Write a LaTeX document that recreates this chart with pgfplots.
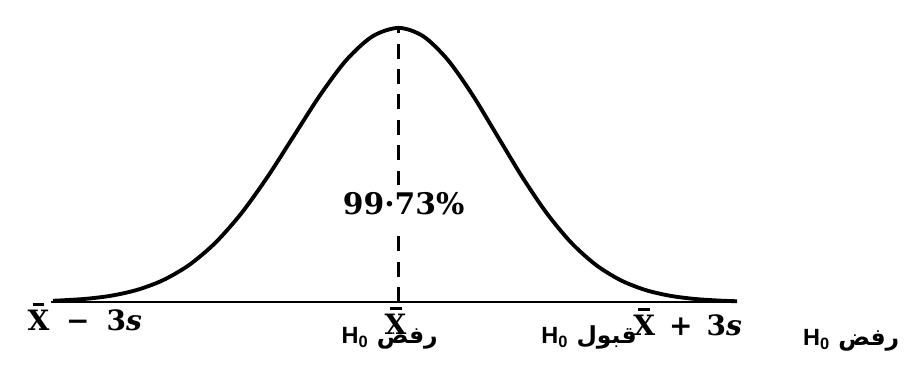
\documentclass[border=0pt]{standalone}
\usepackage{fontspec}
\usepackage{pgfplots}
\pgfplotsset{compat=1.18}
\setmainfont{Liberation Sans}
\newfontfamily\arabicfont[Script=Arabic]{DejaVu Sans}
\newfontfamily\labelfont{DejaVu Serif}
\TeXXeTstate=1
% Arabic decision label followed by H_0 (right to left)
\newcommand\hyp[1]{{\arabicfont\bfseries\beginR #1 \beginL{\normalfont\bfseries H\textsubscript{0}}\endL\endR}}
% X with a short heavy bar (sample mean)
\newcommand\xbar{\hbox{\setbox0=\hbox{X}\copy0\kern-\wd0\hbox to\wd0{\hss\raisebox{0.9em}{\rule{0.42em}{0.1em}}\hss}}}

\begin{document}
\begin{tikzpicture}
\begin{axis}[
  width=18.1cm, height=7.66cm, scale only axis,
  xmin=-3.9216, xmax=4.9510, ymin=-0.29091, ymax=1.10182,
  hide axis, clip=false]
\path (rel axis cs:0,0) rectangle (rel axis cs:1,1);

% base line
\addplot[black, line width=1.6pt] coordinates {(-3.42,0) (3.33,0)};

% bell curve (hand drawn: left flank a little wider than the right)
\addplot[black, line width=2.2pt, smooth] coordinates {
(-3.40,0.0043) (-3.09,0.01111) (-2.83,0.02279) (-2.575,0.04394) (-2.3175,0.07956)
(-2.06,0.13534) (-1.8025,0.21627) (-1.545,0.32465) (-1.2875,0.45783)
(-1.03,0.60653) (-0.7725,0.75484) (-0.515,0.88250) (-0.2575,0.96923)
(0.00,1.00000)
(0.2425,0.96923) (0.485,0.88250) (0.7275,0.75484) (0.97,0.60653)
(1.2125,0.45783) (1.455,0.32465) (1.6975,0.21627) (1.94,0.13534)
(2.1825,0.07956) (2.425,0.04394) (2.6675,0.02279) (2.91,0.01111)
(3.1525,0.00509) (3.33,0.0026)};

% mean line, broken around the central label
\addplot[black, line width=1.4pt, dash pattern=on 8.5pt off 6pt] coordinates {(0,0) (0,0.273)};
\addplot[black, line width=1.4pt, dash pattern=on 8.5pt off 6pt] coordinates {(0,0.425) (0,1)};

% anchor points for the labels
\coordinate (pct) at (axis cs:0.049,0.36);
\coordinate (lo) at (axis cs:-3.088,-0.1055);
\coordinate (mu) at (axis cs:-0.03,-0.12);
\coordinate (hi) at (axis cs:2.843,-0.1236);
\coordinate (r1) at (axis cs:-0.088,-0.1527);
\coordinate (a1) at (axis cs:1.873,-0.1527);
\coordinate (r2) at (axis cs:4.451,-0.16);
\end{axis}

\node[font=\labelfont\bfseries\fontsize{17}{20}\selectfont] at (pct) {99·73\symbol{37}};
\node[anchor=base, font=\labelfont\bfseries\fontsize{16}{19}\selectfont] at (lo) {\xbar\hspace{0.6em}−\hspace{0.6em}3\textit{s}};
\node[anchor=base, font=\labelfont\bfseries\fontsize{16}{19}\selectfont] at (mu) {\xbar};
\node[anchor=base, font=\labelfont\bfseries\fontsize{16}{19}\selectfont] at (hi) {\xbar\hspace{0.5em}+\hspace{0.5em}3\textit{s}};
\node[anchor=base, font=\fontsize{13.4}{16}\selectfont] at (r1) {\hyp{رفض}};
\node[anchor=base, font=\fontsize{13.4}{16}\selectfont] at (a1) {\hyp{قبول}};
\node[anchor=base, font=\fontsize{13.4}{16}\selectfont] at (r2) {\hyp{رفض}};
\end{tikzpicture}
\end{document}
